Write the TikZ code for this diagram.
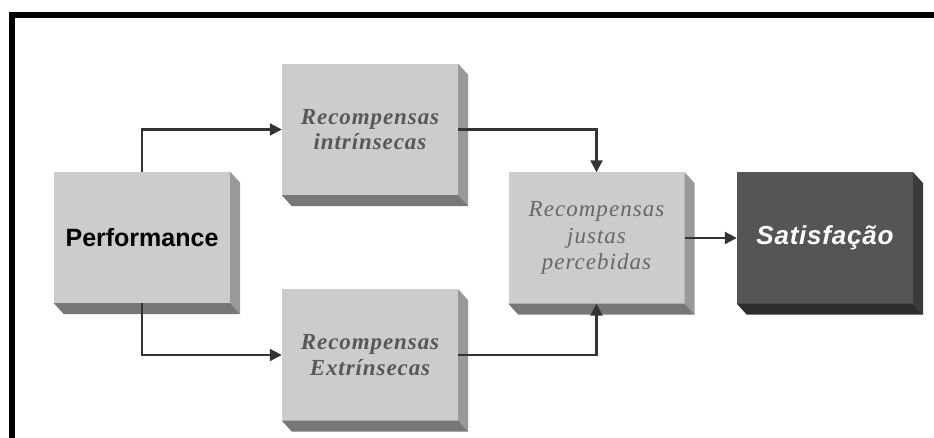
\documentclass[tikz,border=0pt]{standalone}
\usepackage{fontspec}
\usetikzlibrary{arrows.meta}
\newfontfamily\sansbold{Liberation Sans}
\newfontfamily\sansspaced[LetterSpace=3]{Liberation Sans}
\newfontfamily\serifbi[LetterSpace=4]{Liberation Serif}
\newfontfamily\serifi[LetterSpace=4.5]{Liberation Serif}
\definecolor{facelight}{HTML}{CCCCCC}
\definecolor{sidelight}{HTML}{999999}
\definecolor{botlight}{HTML}{777777}
\definecolor{facedark}{HTML}{555555}
\definecolor{sidedark}{HTML}{3A3A3A}
\definecolor{botdark}{HTML}{2E2E2E}
\definecolor{txtgray}{HTML}{585858}
\definecolor{txtgray2}{HTML}{676767}
\definecolor{arrcol}{HTML}{333333}
\tikzset{
  blockbox/.style={rectangle, inner sep=0pt, minimum width=176pt, minimum height=131pt, align=center},
  lightbox/.style={blockbox, fill=facelight},
  darkbox/.style={blockbox, fill=facedark},
  perftext/.style={font=\sansbold\bfseries\fontsize{25}{30}\selectfont, text=black},
  rbitext/.style={font=\serifbi\bfseries\itshape\fontsize{23}{25.5}\selectfont, text=txtgray},
  ritext/.style={font=\serifi\itshape\fontsize{23}{26.5}\selectfont, text=txtgray2},
  sattext/.style={font=\sansspaced\bfseries\itshape\fontsize{26}{30}\selectfont, text=white},
  conn/.style={draw=arrcol, line width=2.2pt, -{Triangle[length=12pt,width=12pt]}},
  frameline/.style={line width=6pt, draw=black, line join=miter}
}
\newcommand{\extrude}[3]{%
  \fill[#2] (#1.north east) -- ++(10,11) -- ([shift={(10,11)}]#1.south east) -- (#1.south east) -- cycle;
  \fill[#3] (#1.south west) -- (#1.south east) -- ++(10,11) -- ([shift={(10,11)}]#1.south west) -- cycle;
}
\begin{document}
\begin{tikzpicture}[x=1pt,y=-1pt]
\useasboundingbox (0,0) rectangle (934,438);
\fill[white] (0,0) rectangle (934,438);
\coordinate (fbl) at (11.5,445);
\coordinate (ftl) at (11.5,15);
\coordinate (ftr) at (940,15);
\draw[frameline] (fbl) -- (ftl) -- (ftr);

\node[lightbox, perftext] (perf) at (142,237.5) {Performance};
\node[lightbox, rbitext] (intr) at (370,129.5) {Recompensas\\ intrínsecas};
\node[lightbox, rbitext] (extr) at (370,355) {Recompensas\\ Extrínsecas};
\node[lightbox, ritext] (just) at (596.5,238) {Recompensas\\ justas\\ percebidas};
\node[darkbox, sattext] (sat) at (825,238) {Satisfação};

\extrude{perf}{sidelight}{botlight}
\extrude{intr}{sidelight}{botlight}
\extrude{extr}{sidelight}{botlight}
\extrude{just}{sidelight}{botlight}
\extrude{sat}{sidedark}{botdark}

\draw[conn] (perf.north) |- (intr.west);
\draw[conn] (perf.south) |- (extr.west);
\draw[conn] (intr.east) -| (just.north);
\draw[conn] (extr.east) -| (just.south);
\draw[conn] (just.east) -- (sat.west);
\end{tikzpicture}
\end{document}
